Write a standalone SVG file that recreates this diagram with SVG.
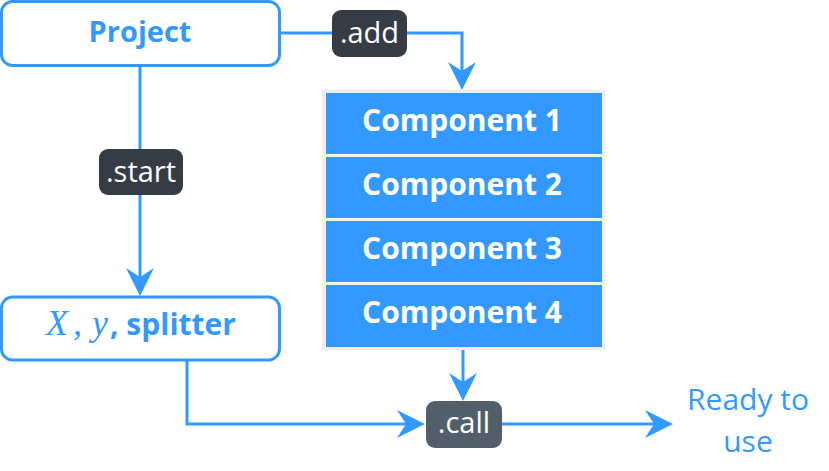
<svg xmlns="http://www.w3.org/2000/svg" width="829" height="471" viewBox="0 0 829 471">
<style>
.box{fill:#fff;stroke:#3399ff;stroke-width:3}
.btxt{font-family:"Open Sans","Noto Sans",sans-serif;font-weight:bold;font-size:29px;fill:#3399ff;text-anchor:middle}
.comp{fill:#3399ff}
.ctxt{font-family:"Open Sans","Noto Sans",sans-serif;font-weight:bold;font-size:30px;fill:#fff;text-anchor:middle}
.lbl{font-family:"Open Sans","Noto Sans",sans-serif;font-size:29px;fill:#fff;text-anchor:middle}
.edge{fill:none;stroke:#3399ff;stroke-width:3;marker-end:url(#ah)}
.math{font-family:"Liberation Serif","DejaVu Serif",serif;font-style:italic;font-size:36px;fill:#3399ff}
</style>
<defs>
<marker id="ah" viewBox="0 0 28 28" refX="9" refY="14" markerWidth="28" markerHeight="28" markerUnits="userSpaceOnUse" orient="auto">
<path d="M0,0 L28,14 L0,28 L9,14 z" fill="#3399ff"/>
</marker>
</defs>
<rect width="829" height="471" fill="#fff"/>
<g id="connectors">
<path class="edge" d="M280,33 H462 V71"/>
<path class="edge" d="M140,66 V277"/>
<path class="edge" d="M187,361 V424 H406"/>
<path class="edge" d="M463,348 V382"/>
<path class="edge" d="M502,424 H654"/>
</g>
<g id="project">
<rect class="box" x="1.5" y="1.5" width="278" height="64" rx="11"/>
<text class="btxt" x="140" y="42">Project</text>
</g>
<g id="splitter">
<rect class="box" x="1.5" y="297" width="278" height="63" rx="11"/>
<text y="335" fill="#3399ff"><tspan class="math" x="46">X</tspan><tspan class="math" x="73">,</tspan><tspan class="math" x="92">y</tspan><tspan x="110" font-family="'Open Sans','Noto Sans',sans-serif" font-weight="bold" font-size="30px">, splitter</tspan></text>
</g>
<g id="components">
<rect x="323.5" y="91.5" width="280" height="257" fill="#f2f2f2" stroke="#eeeeee" stroke-width="3"/>
<rect class="comp" x="326" y="93" width="276" height="61"/>
<rect class="comp" x="326" y="157" width="276" height="61"/>
<rect class="comp" x="326" y="221" width="276" height="61"/>
<rect class="comp" x="326" y="285" width="276" height="62"/>
<text class="ctxt" x="462" y="131">Component 1</text>
<text class="ctxt" x="462" y="195">Component 2</text>
<text class="ctxt" x="462" y="259">Component 3</text>
<text class="ctxt" x="462" y="323">Component 4</text>
</g>
<g id="add">
<rect x="332" y="10" width="75" height="47" rx="9" fill="#363c45"/>
<text class="lbl" x="369.5" y="43">.add</text>
</g>
<g id="start">
<rect x="99" y="149" width="84" height="46" rx="9" fill="#363c45"/>
<text class="lbl" x="141" y="182">.start</text>
</g>
<g id="call">
<rect x="426" y="401" width="76" height="47" rx="9" fill="#525f6b"/>
<text class="lbl" x="464" y="433">.call</text>
</g>
<g id="ready">
<text font-family="'Open Sans','Noto Sans',sans-serif" font-size="30px" fill="#3399ff" text-anchor="middle"><tspan x="748" y="410">Ready to</tspan><tspan x="748" y="452">use</tspan></text>
</g>
</svg>
